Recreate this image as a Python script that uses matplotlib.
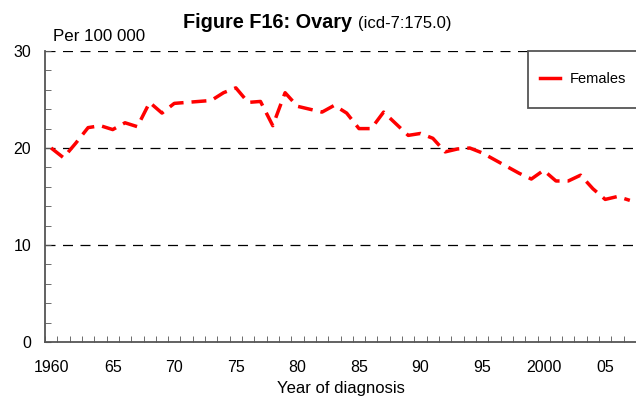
"""Ovary cancer incidence trend, figure F16."""
import matplotlib
matplotlib.use("Agg")
import matplotlib.pyplot as plt
import numpy as np
from matplotlib.patches import Rectangle
from matplotlib.ticker import MultipleLocator, FixedLocator

plt.rcParams['font.family'] = ['Liberation Sans', 'DejaVu Sans']

years = np.arange(1960, 2008)
females = [20.0, 19.0, 20.5, 22.1, 22.3, 21.9, 22.6, 22.2, 24.7, 23.6,
           24.6, 24.7, 24.8, 24.9, 25.7, 26.2, 24.7, 24.8, 22.3, 25.7,
           24.3, 24.0, 23.7, 24.4, 23.6, 22.0, 22.0, 23.7, 22.5, 21.3,
           21.5, 21.0, 19.6, 19.9, 20.0, 19.5, 18.8, 18.1, 17.4, 16.8,
           17.7, 16.6, 16.6, 17.2, 15.8, 14.7, 15.0, 14.6]
label_years = [1960, 1965, 1970, 1975, 1980, 1985, 1990, 1995, 2000, 2005]
label_text = ['1960', '65', '70', '75', '80', '85', '90', '95', '2000', '05']

W, H = 636, 401
fig = plt.figure(figsize=(W/100, H/100), dpi=100)
ax = fig.add_axes([45/W, 1-342/H, 1-45/W, (342-51)/H])

ax.plot(years, females, color='red', lw=2.5, dashes=(4.3, 2.3), label='Females')

ax.set_xlim(1959.5, 2007.5)
ax.set_ylim(0, 30)
for v in (10, 20, 30):
    ax.axhline(v, color='black', lw=0.9, dashes=(8, 6), zorder=0)

ax.xaxis.set_major_locator(FixedLocator(label_years))
ax.set_xticklabels(label_text)
ax.xaxis.set_minor_locator(MultipleLocator(1, offset=0.5))
ax.tick_params(axis='x', which='major', length=0, pad=13, labelsize=11.5)
ax.tick_params(axis='x', which='minor', direction='in', length=4, color='#555555')
ax.yaxis.set_major_locator(MultipleLocator(10))
ax.yaxis.set_minor_locator(MultipleLocator(2))
ax.tick_params(axis='y', which='both', direction='in', length=4, color='#555555', labelsize=11.5)
ax.tick_params(axis='y', which='major', pad=10)
for s in ('top', 'right'):
    ax.spines[s].set_visible(False)
for s in ('left', 'bottom'):
    ax.spines[s].set_color('#555555')
    ax.spines[s].set_linewidth(1.3)

ax.set_xlabel('Year of diagnosis', fontsize=12, labelpad=4)

# legend box drawn by hand, it is taller than the text needs
box = Rectangle((528/W, 1-108/H), 115/W, 57/H, transform=fig.transFigure,
                facecolor='white', edgecolor='#555555', lw=1.3, zorder=5, clip_on=False)
ax.add_patch(box)
leg = ax.legend(loc='center left', bbox_to_anchor=(540/W, 1-79/H), bbox_transform=fig.transFigure,
                frameon=False, fontsize=10.5, borderpad=0, borderaxespad=0,
                handlelength=1.35, handletextpad=0.7)
leg.set_zorder(6)
for h in leg.get_lines():
    h.set_linestyle('-')

fig.text(352/W, 1-28/H, 'Figure F16: Ovary', ha='right', va='baseline',
         fontsize=14.3, fontweight='bold')
fig.text(358/W, 1-28/H, '(icd-7:175.0)', ha='left', va='baseline', fontsize=12)
fig.text(53/W, 1-41/H, 'Per 100 000', ha='left', va='baseline', fontsize=12.2)

fig.savefig('out.png', dpi=100)
plt.close(fig)
